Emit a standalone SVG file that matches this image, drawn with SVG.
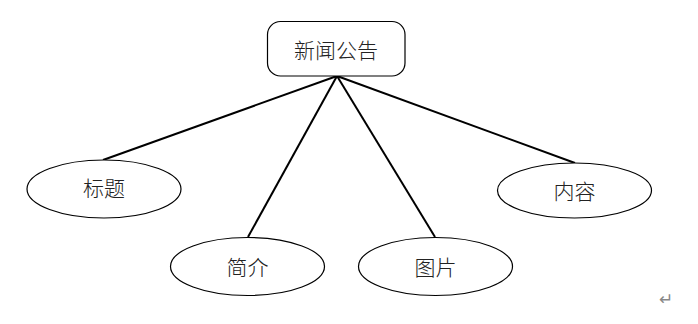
<svg xmlns="http://www.w3.org/2000/svg" width="698" height="324" viewBox="0 0 698 324">
<style>
.node{fill:#fff;stroke:#000;stroke-width:1.2}
.lbl{font-family:"Noto Sans CJK SC","Noto Sans",sans-serif;font-size:21px;font-weight:300;fill:#222;text-anchor:middle;dominant-baseline:central}
.conn{stroke:#000;stroke-width:2;fill:none}
</style>
<rect width="698" height="324" fill="#fff"/>
<g id="connectors">
<line class="conn" x1="337" y1="76" x2="103" y2="160"/>
<line class="conn" x1="337" y1="76" x2="248" y2="237"/>
<line class="conn" x1="337" y1="76" x2="435" y2="237"/>
<line class="conn" x1="337" y1="76" x2="575" y2="163"/>
</g>
<g id="news">
<rect class="node" x="267.5" y="21.5" width="137.5" height="54.5" rx="13"/>
<text class="lbl" x="336" y="48.5">新闻公告</text>
</g>
<g id="title">
<ellipse class="node" cx="104" cy="189" rx="77" ry="29"/>
<text class="lbl" x="104" y="187">标题</text>
</g>
<g id="intro">
<ellipse class="node" cx="247.5" cy="266.5" rx="77" ry="29"/>
<text class="lbl" x="247.5" y="266">简介</text>
</g>
<g id="image">
<ellipse class="node" cx="435.5" cy="266.5" rx="77" ry="29"/>
<text class="lbl" x="435.5" y="266">图片</text>
</g>
<g id="content">
<ellipse class="node" cx="574.5" cy="190.5" rx="77" ry="27.5"/>
<text class="lbl" x="574.5" y="190">内容</text>
</g>
<text x="666" y="299" font-family="'DejaVu Sans',sans-serif" font-size="17" fill="#888" text-anchor="middle" dominant-baseline="central">↵</text>
</svg>
